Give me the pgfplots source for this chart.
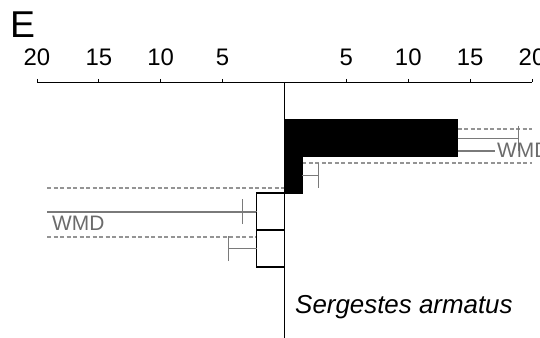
\documentclass[border=0pt]{standalone}
\usepackage{pgfplots}
\pgfplotsset{compat=1.18}
\usepackage{fontspec}
\setmainfont{Liberation Sans}
\definecolor{errgray}{gray}{0.48}
\definecolor{dashgray}{gray}{0.58}
\definecolor{wmdgray}{gray}{0.42}
\begin{document}
\begin{tikzpicture}
\begin{axis}[
  x=12.375bp, y=1bp,
  xmin=-20, xmax=20, ymin=-338, ymax=-82.5,
  enlargelimits=false,
  clip=false,
  axis x line*=top,
  axis y line=none,
  axis line style={line width=1.8bp, -},
  xtick={-20,-15,-10,-5,5,10,15,20},
  xticklabels={20,15,10,5,5,10,15,20},
  tick align=outside,
  major tick length=3.5bp,
  tick style={line width=0.8bp, black},
  xticklabel style={font=\fontsize{24}{28}\selectfont, inner sep=0pt, anchor=base, yshift=13bp},
  /pgf/number format/assume math mode=true,
]
% dashed SD lines
\addplot[dashgray, line width=1.3bp, dash pattern=on 4bp off 2.5bp] coordinates {(13.98,-129) (20,-129)};
\addplot[dashgray, line width=1.3bp, dash pattern=on 4bp off 2.5bp] coordinates {(1.45,-163) (20,-163)};
\addplot[dashgray, line width=1.3bp, dash pattern=on 4bp off 2.5bp] coordinates {(-19.19,-188) (0,-188)};
\addplot[dashgray, line width=1.3bp, dash pattern=on 4bp off 2.5bp] coordinates {(-19.19,-237) (-2.26,-237)};
% WMD lines
\addplot[errgray, line width=1.3bp] coordinates {(13.98,-151) (17.0,-151)};
\addplot[errgray, line width=1.3bp] coordinates {(-19.19,-212) (-2.26,-212)};
% bars
\addplot[xbar, bar width=37, bar shift=0pt, fill=black, draw=black, line width=1bp,
  error bars/.cd, x dir=plus, x explicit, error mark=|,
  error bar style={errgray, line width=1.3bp},
  error mark options={errgray, line width=1.3bp, mark size=12.5bp}]
  coordinates {(13.98,-138.25) +- (4.93,0) (1.45,-175.25) +- (1.29,0)};
\addplot[xbar, bar width=37, bar shift=0pt, fill=white, draw=black, line width=1.6bp,
  error bars/.cd, x dir=minus, x explicit, error mark=|,
  error bar style={errgray, line width=1.3bp},
  error mark options={errgray, line width=1.3bp, mark size=12.5bp}]
  coordinates {(-2.26,-211.5) +- (1.13,0) (-2.26,-248.5) +- (2.26,0)};
% centre line
\addplot[black, line width=1.3bp] coordinates {(0,-82.5) (0,-338)};
% texts
\node[anchor=base west, inner sep=0pt, font=\fontsize{21}{24}\selectfont, text=wmdgray] at (axis cs:17.17,-157) {WMD};
\node[anchor=base west, inner sep=0pt, font=\fontsize{21}{24}\selectfont, text=wmdgray] at (axis cs:-18.79,-230) {WMD};
\node[anchor=base west, inner sep=0pt, font=\fontsize{26}{30}\itshape] at (axis cs:0.85,-313) {Sergestes armatus};
\node[anchor=base west, inner sep=0pt, font=\fontsize{37.5}{40}\selectfont] at (axis cs:-22.18,-37) {E};
\coordinate (bbA) at (axis cs:-22.99,0);
\coordinate (bbB) at (axis cs:20.646,-338);
\end{axis}
\pgfresetboundingbox
\path[use as bounding box] (bbA) rectangle (bbB);
\end{tikzpicture}
\end{document}
